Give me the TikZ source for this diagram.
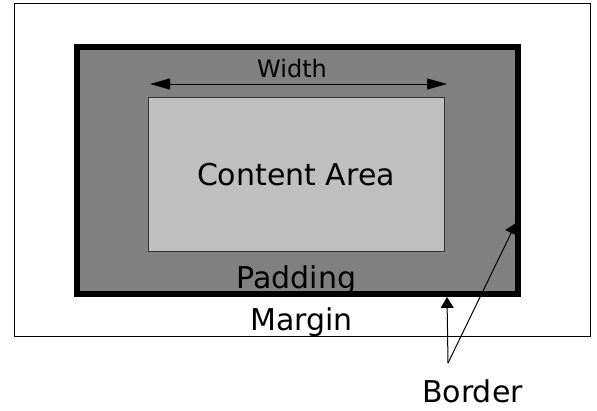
\documentclass[tikz,border=0pt]{standalone}
\usepackage{fontspec}
\setmainfont{DejaVu Sans}
\usetikzlibrary{arrows.meta}
\begin{document}
\begin{tikzpicture}[x=1pt,y=-1pt,
    lbl/.style={anchor=base,inner sep=0pt,font=\fontsize{30}{36}\selectfont},
    tip/.style={-{Triangle[length=11pt,width=13pt]}}]
  \useasboundingbox (0,0) rectangle (597,410);
  \draw[fill=white,line width=1pt] (14,3.5) rectangle (590,336);
  \draw[fill=black!50,line width=6pt] (77,47) rectangle (518,294);
  \draw[fill=black!25,line width=1pt,draw=black!80] (148,97) rectangle (444,251);
  \node (w) at (292,77) [lbl,font=\fontsize{24}{28}\selectfont] {Width};
  \coordinate (wl) at (150,84); \coordinate (wr) at (447,84);
  \draw[{Triangle[length=20pt,width=11pt]}-{Triangle[length=20pt,width=11pt]},
    line width=1pt] (wl) -- (wr);
  \node (c) at (296,185) [lbl] {Content Area};
  \node (p) at (296.5,288) [lbl] {Padding};
  \node (m) at (301.5,330) [lbl] {Margin};
  \node (b) at (472.5,402) [lbl] {Border};
  \coordinate (f) at (448,363); \coordinate (bb) at (447,297);
  \coordinate (br) at (516,223);
  \draw[tip,line width=1pt] (f) -- (bb); \draw[tip,line width=1pt] (f) -- (br);
\end{tikzpicture}
\end{document}
